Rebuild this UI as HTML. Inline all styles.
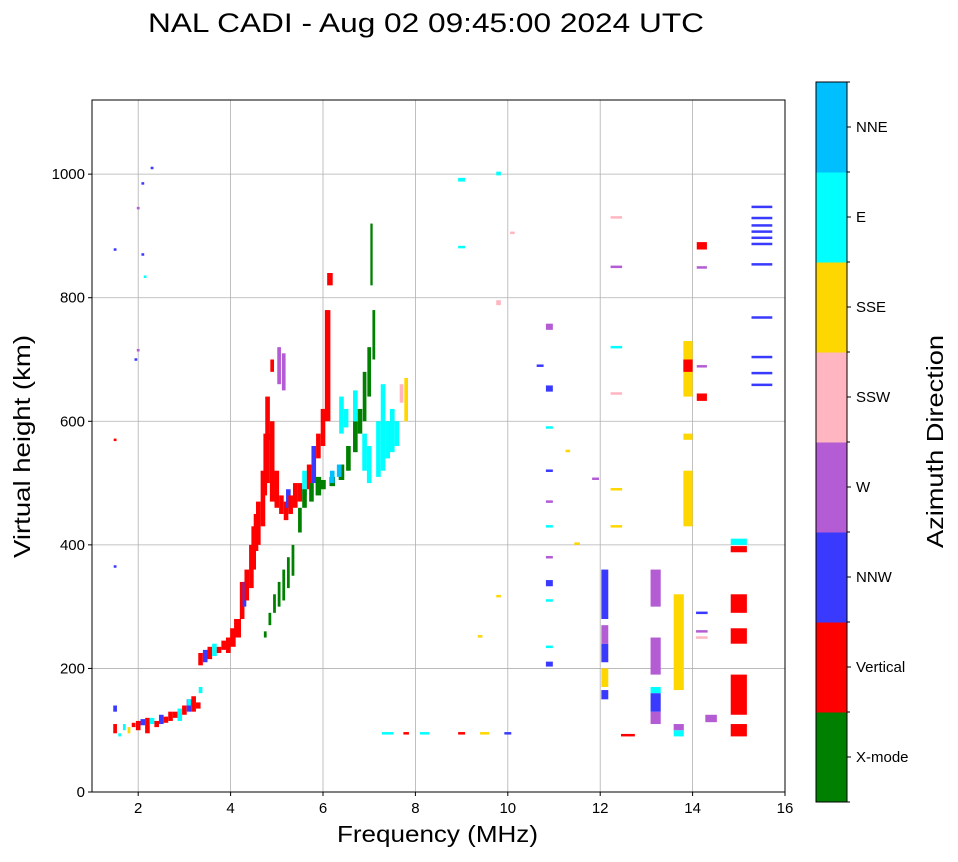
<!DOCTYPE html>
<html><head><meta charset="utf-8"><style>
body{margin:0;background:#fff;}
svg text{font-family:"Liberation Sans",sans-serif;fill:#000;}
</style></head><body>
<svg id="chart" width="958" height="857">
<text x="148" y="32" font-size="27" textLength="556" lengthAdjust="spacingAndGlyphs">NAL CADI - Aug 02 09:45:00 2024 UTC</text>
<g id="grid"></g><g id="marks"></g><g id="axes"></g><g id="cbar"></g>
<text x="337" y="842" font-size="23" textLength="201" lengthAdjust="spacingAndGlyphs">Frequency (MHz)</text>
<text transform="translate(30,558) rotate(-90)" font-size="23" textLength="223" lengthAdjust="spacingAndGlyphs">Virtual height (km)</text>
<text transform="translate(943,548) rotate(-90)" font-size="23" textLength="213" lengthAdjust="spacingAndGlyphs">Azimuth Direction</text>
</svg>
<script>
const xTicks=[2,4,6,8,10,12,14,16];
const yTicks=[0,200,400,600,800,1000];
const dirNames=["X-mode","Vertical","NNW","W","SSW","SSE","E","NNE"];
const dirColors=["#008000","#ff0000","#3a3aff","#b45cd4","#ffb6c1","#ffd700","#00ffff","#00bfff"];
const freqs=[1.5,1.5,1.6,1.7,1.8,1.9,2.0,2.1,2.2,2.3,2.4,2.5,2.6,2.7,2.8,2.9,3.0,3.1,3.2,3.3,3.35,3.1,
3.35,3.45,3.55,3.65,3.75,3.85,3.95,4.05,4.15,4.25,4.3,4.35,4.45,4.5,4.55,4.6,4.7,4.75,4.8,4.9,5.0,5.05,5.15,5.1,5.2,5.25,5.3,5.4,5.5,5.6,5.7,5.8,5.9,6.0,6.1,6.15,4.9,4.85,
4.75,4.85,4.95,5.05,5.15,5.25,5.35,5.5,5.6,5.75,5.9,6.0,6.2,6.4,6.55,6.7,6.8,6.9,7.0,7.05,7.1,
6.4,6.5,6.7,6.9,7.0,7.2,7.3,7.4,7.5,7.6,7.7,7.8,6.2,6.35,
9.0,9.0,9.8,9.8,10.1,10.9,10.9,10.9,10.9,10.9,10.9,10.9,10.9,10.9,10.9,10.9,10.7,
12.1,12.1,12.1,12.1,12.1,12.35,12.35,12.35,12.35,12.35,12.35,
13.2,13.2,13.2,13.2,13.2,13.7,13.7,13.7,13.9,13.9,13.9,13.9,
14.2,14.2,14.2,14.2,14.2,14.2,14.2,14.4,
15.0,15.0,15.0,15.0,15.0,15.0,
15.5,15.5,15.5,15.5,15.5,15.5,15.5,15.5,15.5,15.5,15.5,
9.0,10.0,8.2,7.4,7.8,9.5,12.6,
1.5,1.5,1.5,2.1,2.1,2.0,2.3,2.15,1.95,2.0,9.4,9.8,11.3,11.9,11.5];
const hLow=[95,130,90,100,95,105,100,108,95,110,105,110,112,115,120,115,125,130,130,135,160,140,
205,210,215,220,225,230,225,235,250,280,300,310,330,360,390,400,430,480,500,470,460,660,650,450,440,460,450,460,470,480,490,500,540,560,600,820,680,570,
250,270,290,300,310,330,350,420,460,470,480,490,495,505,520,550,580,600,640,820,700,
580,590,600,520,500,510,520,540,550,560,630,600,500,510,
988,880,998,788,903,748,648,588,518,468,428,378,333,308,203,233,688,
150,170,210,240,280,428,488,643,718,848,928,
110,130,160,190,300,90,100,165,430,570,640,680,
878,847,687,633,288,258,248,113,
90,125,240,290,388,400,
659,678,704,768,854,887,897,907,917,929,947,
93,93,93,93,93,93,90,
876,568,363,868,983,943,1008,832,698,713,250,315,550,505,400];
const hHigh=[110,140,95,110,105,112,115,118,120,120,115,125,122,130,130,135,140,150,155,145,170,150,
225,230,235,240,235,245,250,265,280,340,340,360,400,430,450,470,520,580,640,600,520,720,710,480,470,490,480,500,500,520,530,560,580,620,780,840,700,580,
260,290,320,340,360,380,400,460,490,500,510,505,510,530,560,600,620,680,720,920,780,
640,620,650,580,560,600,660,600,620,600,660,670,520,530,
994,884,1004,796,907,758,658,592,522,472,432,382,343,312,211,237,692,
165,200,240,270,360,432,492,647,722,852,932,
130,160,170,250,360,100,110,320,520,580,730,700,
890,851,691,645,292,262,252,125,
110,190,265,320,398,410,
661,680,706,770,856,889,899,909,919,931,949,
97,97,97,97,97,97,94,
880,572,367,872,987,947,1012,836,702,717,254,319,554,509,404];
const dirs=[1,2,6,6,5,1,1,2,1,6,1,2,1,1,1,6,1,2,1,1,6,6,
1,2,1,6,1,1,1,1,1,1,2,1,1,1,1,1,1,1,1,1,1,3,3,1,1,2,1,1,1,6,1,2,1,1,1,1,1,1,
0,0,0,0,0,0,0,0,0,0,0,0,0,0,0,0,0,0,0,0,0,
6,6,6,6,6,6,6,6,6,6,4,5,7,7,
6,6,6,4,4,3,2,6,2,3,6,3,2,6,2,6,2,
2,5,2,3,2,5,5,4,6,3,4,
3,2,6,3,3,6,3,5,5,5,5,1,
1,3,3,1,2,3,4,3,
1,1,1,1,1,6,
2,2,2,2,2,2,2,2,2,2,2,
1,2,6,6,1,5,1,
2,1,2,2,2,3,2,6,2,3,5,5,5,3,5];
const widths=[0.08,0.08,0.06,0.06,0.06,0.08,0.1,0.1,0.1,0.1,0.1,0.1,0.1,0.1,0.1,0.1,0.1,0.1,0.1,0.1,0.08,0.08,
0.1,0.1,0.1,0.1,0.1,0.1,0.1,0.12,0.15,0.1,0.08,0.1,0.1,0.1,0.1,0.1,0.1,0.08,0.1,0.1,0.1,0.08,0.08,0.1,0.1,0.1,0.1,0.1,0.1,0.1,0.1,0.1,0.1,0.1,0.12,0.12,0.08,0.08,
0.06,0.06,0.06,0.06,0.06,0.06,0.06,0.08,0.1,0.1,0.12,0.12,0.12,0.12,0.1,0.1,0.1,0.08,0.08,0.05,0.06,
0.1,0.1,0.1,0.1,0.1,0.1,0.1,0.1,0.1,0.1,0.08,0.08,0.1,0.1,
0.15,0.15,0.1,0.1,0.1,0.15,0.15,0.15,0.15,0.15,0.15,0.15,0.15,0.15,0.15,0.15,0.15,
0.15,0.15,0.15,0.15,0.15,0.25,0.25,0.25,0.25,0.25,0.25,
0.22,0.22,0.22,0.22,0.22,0.22,0.22,0.22,0.2,0.2,0.2,0.2,
0.22,0.22,0.22,0.22,0.25,0.25,0.25,0.25,
0.35,0.35,0.35,0.35,0.35,0.35,
0.45,0.45,0.45,0.45,0.45,0.45,0.45,0.45,0.45,0.45,0.45,
0.15,0.15,0.2,0.25,0.12,0.2,0.3,
0.06,0.06,0.06,0.06,0.06,0.06,0.06,0.06,0.06,0.06,0.1,0.1,0.1,0.15,0.12];

const NS="http://www.w3.org/2000/svg";
const L=92,R=785,T=100,B=792,xMin=1,xMax=16,yMin=0,yMax=1120;
const xs=f=>L+(f-xMin)/(xMax-xMin)*(R-L);
const ys=h=>B-(h-yMin)/(yMax-yMin)*(B-T);
function mk(tag,attrs,parent){const e=document.createElementNS(NS,tag);for(const k in attrs)e.setAttribute(k,attrs[k]);parent.appendChild(e);return e;}
const grid=document.getElementById('grid'),axes=document.getElementById('axes'),marks=document.getElementById('marks'),cbar=document.getElementById('cbar');
xTicks.forEach(t=>{
 const x=xs(t);
 if(t<xMax){const g=mk('line',{x1:x,x2:x,y1:T,y2:B,stroke:'#b0b0b0','stroke-width':0.8},grid);
 
 }
 mk('line',{x1:x,x2:x,y1:B,y2:B+4,stroke:'#000'},axes);
 const tx=mk('text',{x:x,y:B+21,'font-size':15,'text-anchor':'middle'},axes);tx.textContent=t;
 
 
});
yTicks.forEach(t=>{
 const y=ys(t);
 if(t>0){const g=mk('line',{x1:L,x2:R,y1:y,y2:y,stroke:'#b0b0b0','stroke-width':0.8},grid);
 
 }
 mk('line',{x1:L-4,x2:L,y1:y,y2:y,stroke:'#000'},axes);
 const tx=mk('text',{x:L-7,y:y+5,'font-size':15,'text-anchor':'end'},axes);tx.textContent=t;
 
 
});
const frame=mk('rect',{x:L,y:T,width:R-L,height:B-T,fill:'none',stroke:'#000','stroke-width':1},axes);


for(let i=0;i<freqs.length;i++){
 const x0=xs(freqs[i]-widths[i]/2),x1=xs(freqs[i]+widths[i]/2);
 const y1=ys(hHigh[i]),y0=ys(hLow[i]);
 const r=mk('rect',{x:x0,y:y1,width:Math.max(x1-x0,2),height:Math.max(y0-y1,2.5),fill:dirColors[dirs[i]]},marks);
 
 
}
const cx=816,cw=31,cT=82,cB=802,bh=(cB-cT)/dirNames.length;
dirNames.forEach((n,i)=>{
 const y=cB-(i+1)*bh;
 const r=mk('rect',{x:cx,y:y,width:cw,height:bh+0.5,fill:dirColors[i]},cbar);
 
 
 mk('line',{x1:cx+cw,x2:cx+cw+4,y1:y+bh/2,y2:y+bh/2,stroke:'#000'},cbar);
 const t=mk('text',{x:cx+cw+9,y:y+bh/2+5,'font-size':15},cbar);t.textContent=n;
 
 
});
for(let i=0;i<=dirNames.length;i++){const y=cB-i*bh;mk('line',{x1:cx+cw,x2:cx+cw+3,y1:y,y2:y,stroke:'#000'},cbar);}
mk('rect',{x:cx,y:cT,width:cw,height:cB-cT,fill:'none',stroke:'#000'},cbar);
</script>
</body></html>
